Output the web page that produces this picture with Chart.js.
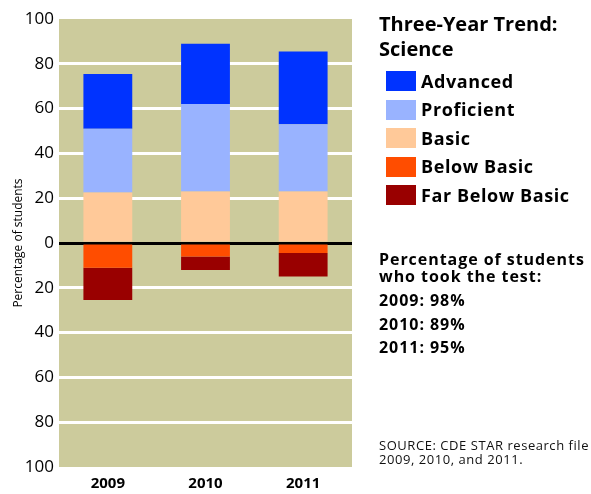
<!DOCTYPE html>
<html>
<head>
<meta charset="utf-8">
<script src="https://cdn.jsdelivr.net/npm/chart.js@4.4.0/dist/chart.umd.min.js"></script>
<style>
  html, body { margin: 0; padding: 0; background: #fff; }
  #wrap { position: relative; width: 591px; height: 494px; overflow: hidden; font-family: "Open Sans", sans-serif; color: #000; }
  #c { position: absolute; left: 0; top: 0; }
  .t { position: absolute; left: 379px; white-space: nowrap; line-height: 1; }
  .title { font-size: 20px; font-weight: 700; }
  .leg { font-size: 18px; font-weight: 700; left: 421px; letter-spacing: 0.6px; }
  .sw { position: absolute; left: 386px; width: 30px; height: 20px; }
  .note { font-size: 16px; font-weight: 700; letter-spacing: 0.95px; }
  .src { font-size: 13px; font-weight: 400; color: #111; letter-spacing: 0.55px; }
</style>
</head>
<body>
<div id="wrap">
  <canvas id="c" width="591" height="494"></canvas>
  <div id="panel"></div>
</div>
<script>
const categories = ["2009", "2010", "2011"];
const basic        = [22.5, 23, 23];
const proficient   = [28.5, 39, 30];
const advanced     = [24.5, 27, 32.5];
const belowBasic   = [-11, -6, -4.5];
const farBelowBasic = [-14.5, -6, -10.5];
const yTicks = [-100, -80, -60, -40, -20, 0, 20, 40, 60, 80, 100];
const legendTitle = ["Three-Year Trend:", "Science"];
const notes = ["Percentage of students", "who took the test:", "2009: 98%", "2010: 89%", "2011: 95%"];
const source = ["SOURCE: CDE STAR research file", "2009, 2010, and 2011."];

const colors = {
  Advanced: "#0033ff",
  Proficient: "#99b3ff",
  Basic: "#ffc999",
  "Below Basic": "#ff4d00",
  "Far Below Basic": "#990000"
};

const datasets = [
  { label: "Basic", data: basic },
  { label: "Proficient", data: proficient },
  { label: "Advanced", data: advanced },
  { label: "Below Basic", data: belowBasic },
  { label: "Far Below Basic", data: farBelowBasic }
].map(d => Object.assign(d, { backgroundColor: colors[d.label], borderWidth: 0, stack: "s" }));

const bgPlugin = {
  id: "plotBg",
  beforeDraw(chart) {
    const { ctx, chartArea: a } = chart;
    ctx.save();
    ctx.fillStyle = "#cccb9c";
    ctx.fillRect(a.left, a.top, a.right - a.left, a.bottom - a.top);
    ctx.restore();
  }
};

new Chart(document.getElementById("c"), {
  type: "bar",
  data: { labels: categories, datasets },
  options: {
    responsive: false,
    animation: false,
    layout: { padding: { left: 0, top: 19, right: 239, bottom: 0 } },
    plugins: { legend: { display: false }, tooltip: { enabled: false } },
    datasets: { bar: { categoryPercentage: 1, barPercentage: 0.5 } },
    scales: {
      x: {
        stacked: true,
        grid: { display: false, drawTicks: false },
        border: { display: false },
        ticks: { color: "#000", font: { family: "Open Sans", size: 15, weight: "bold" }, padding: 8 },
        afterFit(s) { s.height = 27; }
      },
      y: {
        stacked: true,
        min: -100, max: 100,
        afterBuildTicks(s) { s.ticks = yTicks.map(v => ({ value: v })); },
        ticks: {
          color: "#000",
          font: { family: "Open Sans", size: 17 },
          padding: 5,
          callback: v => String(Math.abs(v))
        },
        grid: {
          drawTicks: false,
          lineWidth: 3,
          color: c => c.tick.value === 0 ? "#000" : (Math.abs(c.tick.value) === 100 ? "rgba(0,0,0,0)" : "#fff")
        },
        border: { display: false },
        title: {
          display: true,
          text: "Percentage of students",
          color: "#000",
          font: { family: "Open Sans", size: 12 },
          padding: { top: 11, bottom: 0 }
        },
        afterFit(s) { s.width = 59; }
      }
    }
  },
  plugins: [bgPlugin]
});

// Right-hand panel: title, legend, notes
const panel = document.getElementById("panel");
function addText(cls, text, top) {
  const d = document.createElement("div");
  d.className = "t " + cls;
  d.textContent = text;
  d.style.top = top + "px";
  panel.appendChild(d);
}
addText("title", legendTitle[0], 14);
addText("title", legendTitle[1], 39);
const legendOrder = ["Advanced", "Proficient", "Basic", "Below Basic", "Far Below Basic"];
legendOrder.forEach((name, i) => {
  const top = 71 + i * 28.5;
  const sw = document.createElement("div");
  sw.className = "sw";
  sw.style.top = top + "px";
  sw.style.background = colors[name];
  panel.appendChild(sw);
  addText("leg", name, top + 0.5);
});
const noteBaselines = [265, 281.7, 305.7, 330, 353];
notes.forEach((n, i) => addText("note", n, noteBaselines[i] - 14.2));
const srcBaselines = [450.7, 464];
source.forEach((n, i) => addText("src", n, srcBaselines[i] - 11.5));
</script>
</body>
</html>
